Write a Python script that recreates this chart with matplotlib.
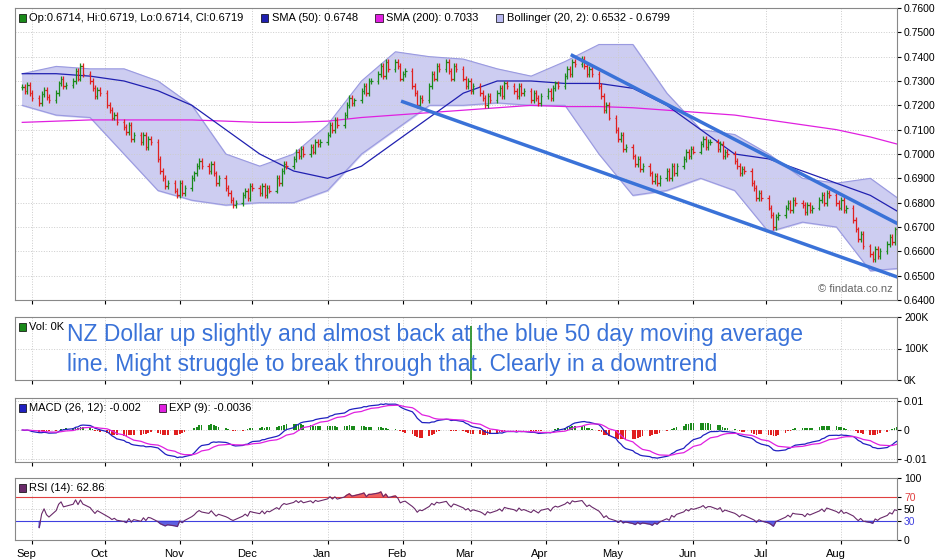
import numpy as np
import pandas as pd
import matplotlib
matplotlib.use("Agg")
import matplotlib.pyplot as plt
import matplotlib.transforms as mtransforms
from matplotlib.patches import Rectangle

plt.rcParams["font.family"] = "Liberation Sans"

closes = [
 .7275,.7260,.7285,.7250,.7230, .7210,.7245,.7265,.7235,.7220, .7250,.7290,.7310,.7280,.7285,
 .7300,.7340,.7310,.7360,.7330, .7300,.7270,.7240,.7265,.7250, .7200,.7180,.7150,.7160,.7130,
 .7110,.7090,.7120,.7060,.7080, .7050,.7080,.7030,.7060,.7050, .6980,.6930,.6900,.6870,.6880,
 .6850,.6830,.6880,.6840,.6860, .6900,.6920,.6950,.6970,.6950, .6930,.6960,.6920,.6880,.6900,
 .6860,.6840,.6810,.6790,.6800, .6830,.6850,.6820,.6870,.6860, .6840,.6870,.6830,.6860,.6850,
 .6900,.6880,.6930,.6960,.6950, .6980,.7010,.6990,.7020,.7000, .7030,.7010,.7050,.7040,.7050,
 .7080,.7120,.7100,.7140,.7120, .7160,.7200,.7230,.7210,.7220, .7260,.7280,.7250,.7300,.7300,
 .7330,.7360,.7320,.7380,.7350, .7380,.7360,.7310,.7330,.7340, .7280,.7250,.7200,.7230,.7220,
 .7280,.7330,.7310,.7360,.7350, .7380,.7340,.7310,.7360,.7350, .7310,.7280,.7300,.7260,.7280,
 .7250,.7230,.7200,.7240,.7220, .7250,.7270,.7240,.7290,.7280, .7260,.7240,.7280,.7250,.7260,
 .7220,.7250,.7230,.7210,.7240, .7260,.7230,.7270,.7290,.7280, .7320,.7350,.7330,.7380,.7370,
 .7390,.7360,.7330,.7350,.7330, .7280,.7240,.7180,.7200,.7150, .7100,.7060,.7080,.7020,.7030,
 .6990,.6960,.6980,.6940,.6950, .6920,.6890,.6910,.6880,.6900, .6930,.6900,.6950,.6920,.6950,
 .6980,.7010,.6990,.7020,.7010, .7040,.7060,.7030,.7050,.7050, .7020,.7040,.6990,.7010,.7000,
 .6970,.6950,.6920,.6940,.6930, .6880,.6860,.6820,.6840,.6820, .6780,.6750,.6700,.6740,.6750,
 .6780,.6800,.6770,.6810,.6800, .6790,.6760,.6790,.6770,.6780, .6810,.6830,.6800,.6840,.6830,
 .6800,.6780,.6810,.6770,.6780, .6730,.6690,.6650,.6670,.6620, .6590,.6570,.6610,.6580,.6600,
 .6630,.6660,.6640,.6690,.6680, .6700,.6710,.6719]
sma50 = [.733,.733,.732,.730,.726,.720,.710,.700,.693,.690,.695,.705,.715,.725,.730,.730,.729,
         .729,.727,.720,.710,.700,.698,.693,.688,.683,.6748]
sma200 = [.713,.7135,.714,.714,.714,.714,.7135,.713,.713,.7135,.715,.716,.717,.718,.719,.720,.7195,
          .7195,.719,.718,.717,.716,.714,.712,.710,.707,.7033]
bb_upper = [.733,.736,.735,.735,.730,.720,.700,.695,.700,.712,.730,.742,.740,.739,.735,.732,.738,
            .745,.745,.725,.710,.708,.700,.690,.688,.690,.6799]
bb_lower = [.720,.716,.715,.700,.685,.681,.679,.680,.680,.685,.700,.710,.720,.720,.721,.720,.720,
            .700,.683,.685,.690,.685,.668,.672,.670,.652,.6532]
trend_dates = [["2018-02-01", "2018-08-24"], ["2018-04-12", "2018-08-24"]]
trend_vals = [[0.7215, 0.6495], [0.7405, 0.6715]]
vol_date = "2018-03-01"
vol_value = 170000
month_labels = ["Sep","Oct","Nov","Dec","Jan","Feb","Mar","Apr","May","Jun","Jul","Aug"]

dates = pd.bdate_range("2017-08-28", periods=len(closes))
c = np.array(closes)
o = np.r_[c[0], c[:-1]]
hi = np.maximum(o, c) + 0.0012
lo = np.minimum(o, c) - 0.0012
idx = np.minimum(np.arange(len(sma50)) * 10, len(c) - 1)
wd = dates[idx]

s = pd.Series(c)
macd = (s.ewm(span=12, adjust=False).mean() - s.ewm(span=26, adjust=False).mean()).values
sig = pd.Series(macd).ewm(span=9, adjust=False).mean().values
hist = macd - sig
d = s.diff().fillna(0)
up = d.clip(lower=0).ewm(alpha=1/14, adjust=True).mean()
dn = (-d.clip(upper=0)).ewm(alpha=1/14, adjust=True).mean()
rsi = (100 * up / (up + dn).replace(0, np.nan)).fillna(50).values
rstart = 5
rd, rv = dates[rstart:], rsi[rstart:]

fig = plt.figure(figsize=(9.4, 5.6), dpi=100)
L, W = 15/940, 882/940
axm = fig.add_axes([L, 1-300/560, W, 292/560])
axv = fig.add_axes([L, 1-380/560, W, 63/560])
axc = fig.add_axes([L, 1-462/560, W, 64/560])
axr = fig.add_axes([L, 1-540/560, W, 62/560])
xl = (dates[0] - pd.Timedelta(days=3), pd.Timestamp("2018-08-24"))
months = pd.date_range("2017-09-01", periods=12, freq="MS")
for ax in (axm, axv, axc, axr):
    ax.set_xlim(xl)
    ax.yaxis.tick_right()
    ax.tick_params(axis="y", labelsize=7.5, length=3, pad=2)
    ax.set_xticks(months)
    ax.grid(True, color="#cccccc", linestyle=":", linewidth=0.7)
    ax.tick_params(axis="x", length=3)
    for sp in ax.spines.values():
        sp.set_color("#888888")
    if ax is not axr:
        ax.set_xticklabels([])
axr.set_xticklabels(month_labels, fontsize=8)
shift = mtransforms.ScaledTranslation(-4/72, 0, fig.dpi_scale_trans)
for lab in axr.get_xticklabels():
    lab.set_horizontalalignment("center")
    lab.set_transform(lab.get_transform() + shift)

axm.fill_between(wd, bb_lower, bb_upper, color="#c8c8f0", alpha=0.9, zorder=1)
axm.plot(wd, bb_upper, color="#9a9ae0", lw=0.8, zorder=2)
axm.plot(wd, bb_lower, color="#9a9ae0", lw=0.8, zorder=2)
axm.plot(wd, sma200, color="#e020e0", lw=0.9, zorder=3)
axm.plot(wd, sma50, color="#2020b0", lw=0.9, zorder=3)
cols = np.where(c >= o, "#1a8a1a", "#e02020")
axm.vlines(dates, lo, hi, colors=cols, lw=0.9, zorder=4)
tk = pd.Timedelta(hours=14)
axm.hlines(o, dates - tk, dates, colors=cols, lw=0.9, zorder=4)
axm.hlines(c, dates, dates + tk, colors=cols, lw=0.9, zorder=4)
for td, tv in zip(trend_dates, trend_vals):
    axm.plot(pd.to_datetime(td), tv, color="#3a72d8", lw=2.5, zorder=5)
axm.set_ylim(0.64, 0.76)
yt = np.arange(0.64, 0.7601, 0.01)
axm.set_yticks(yt)
axm.set_yticklabels([f"{v:.4f}" for v in yt])
axm.text(0.995, 0.02, "© findata.co.nz", transform=axm.transAxes, ha="right", va="bottom", fontsize=8, color="#666666")

def legend2(ax, items):
    h = ax.get_position().height * 560
    ypx = 10
    x = 0.004
    for col, txt in items:
        ax.add_patch(Rectangle((x, 1 - (ypx + 4) / h), 0.0085, 8 / h, transform=ax.transAxes,
                               facecolor=col, edgecolor="black", lw=0.5, zorder=10, clip_on=False))
        t = ax.text(x + 0.012, 1 - ypx / h, txt, transform=ax.transAxes, fontsize=8, va="center", zorder=10)
        fig.canvas.draw()
        bb = t.get_window_extent().transformed(ax.transAxes.inverted())
        x = bb.x1 + 0.02

legend2(axm, [("#1a8a1a", "Op:0.6714, Hi:0.6719, Lo:0.6714, Cl:0.6719"), ("#2020b0", "SMA (50): 0.6748"),
              ("#e020e0", "SMA (200): 0.7033"), ("#b8b8f0", "Bollinger (20, 2): 0.6532 - 0.6799")])

axv.vlines([pd.Timestamp(vol_date)], [0], [vol_value], colors="#1a8a1a", lw=1.2)
axv.set_ylim(0, 200000)
axv.set_yticks([0, 100000, 200000])
axv.set_yticklabels(["0K", "100K", "200K"])
legend2(axv, [("#1a8a1a", "Vol: 0K")])
axv.text(0.059, 0.9, "NZ Dollar up slightly and almost back at the blue 50 day moving average\nline. Might struggle to break through that. Clearly in a downtrend",
         transform=axv.transAxes, fontsize=16.5, color="#3a72d8", va="top", linespacing=1.4, zorder=11)

axc.bar(dates, hist, width=0.7, color=np.where(hist >= 0, "#1a8a1a", "#e02020"), zorder=2)
axc.plot(dates, macd, color="#2020c0", lw=0.9, zorder=3)
axc.plot(dates, sig, color="#e020e0", lw=0.9, zorder=3)
axc.set_ylim(-0.011, 0.011)
axc.set_yticks([-0.01, 0, 0.01])
axc.set_yticklabels(["-0.01", "0", "0.01"])
legend2(axc, [("#2020c0", "MACD (26, 12): -0.002"), ("#e020e0", "EXP (9): -0.0036")])

axr.plot(rd, rv, color="#6a2a6a", lw=0.8, zorder=3)
axr.fill_between(rd, rv, 70, where=rv > 70, interpolate=True, color="#f06060", zorder=2)
axr.fill_between(rd, rv, 30, where=rv < 30, interpolate=True, color="#6060e0", zorder=2)
axr.axhline(70, color="#e04040", lw=0.8)
axr.axhline(30, color="#4040e0", lw=0.8)
axr.set_ylim(0, 100)
axr.set_yticks([0, 30, 50, 70, 100])
axr.set_yticklabels(["0", "30", "50", "70", "100"])
axr.get_yticklabels()[1].set_color("#4040e0")
axr.get_yticklabels()[3].set_color("#e04040")
legend2(axr, [("#6a2a6a", "RSI (14): 62.86")])

fig.savefig("out.png", dpi=100)
